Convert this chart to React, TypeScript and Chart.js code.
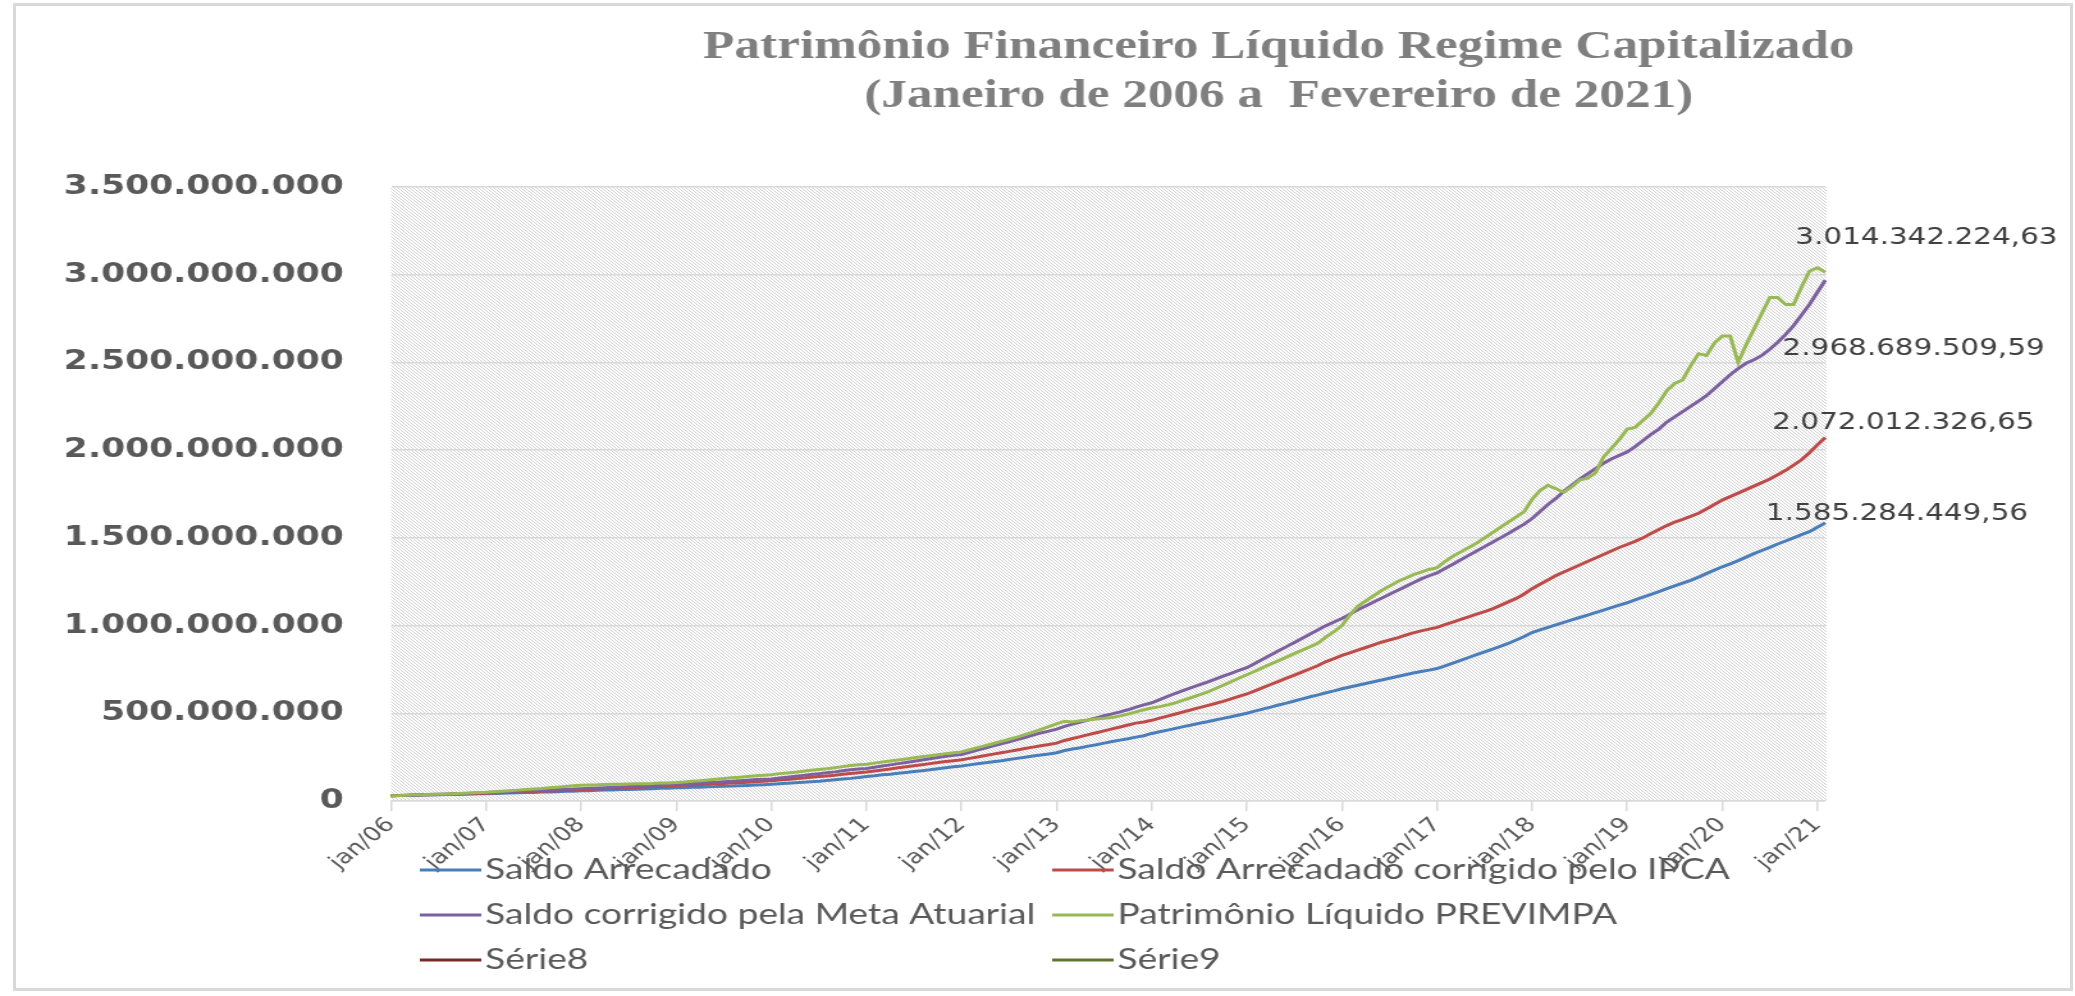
import React, { useEffect, useRef } from "react";
import { Chart, registerables } from "chart.js";
Chart.register(...registerables);

// Horizontal stretch of the original picture
const S = 1.28;
const W = 1621;
const H = 996;

const titleLines = [
  "Patrimônio Financeiro Líquido Regime Capitalizado",
  "(Janeiro de 2006 a  Fevereiro de 2021)",
];

const monthNames = ["jan", "fev", "mar", "abr", "mai", "jun", "jul", "ago", "set", "out", "nov", "dez"];
const categories: string[] = [];
for (let y = 2006; y <= 2021; y++) {
  for (let m = 0; m < 12; m++) {
    if (y === 2021 && m > 1) break;
    categories.push(`${monthNames[m]}/${String(y).slice(2)}`);
  }
}

const yTicks = [0, 500000000, 1000000000, 1500000000, 2000000000, 2500000000, 3000000000, 3500000000];

// values in R$ millions
const saldoArrecadado = [
  30, 31, 32, 33, 34, 35, 36, 37, 38, 39, 40, 41,
  42, 43, 44, 45, 47, 48, 49, 51, 52, 53, 55, 56,
  58, 59, 61, 62, 63, 65, 66, 67, 69, 70, 72, 73,
  75, 76, 78, 79, 81, 82, 84, 85, 87, 89, 91, 93,
  95, 98, 101, 104, 107, 110, 113, 117, 121, 125, 129, 134,
  140, 144, 149, 153, 158, 163, 168, 173, 178, 184, 190, 195,
  200, 206, 212, 218, 224, 230, 237, 243, 249, 256, 262, 268,
  275, 288, 296, 304, 313, 321, 330, 339, 347, 355, 364, 372,
  385, 395, 404, 414, 424, 433, 443, 452, 462, 471, 480, 490,
  500, 512, 524, 535, 547, 558, 570, 582, 594, 605, 617, 628,
  640, 650, 660, 670, 680, 690, 700, 710, 720, 730, 738, 746,
  755, 770, 786, 802, 818, 834, 850, 866, 882, 898, 918, 938,
  960, 975, 990, 1004, 1018, 1032, 1046, 1060, 1074, 1088, 1102, 1116,
  1130, 1146, 1162, 1178, 1194, 1210, 1226, 1242, 1258, 1276, 1296, 1316,
  1335, 1352, 1370, 1390, 1410, 1428, 1446, 1465, 1482, 1500, 1518, 1535,
  1560, 1585.28444956,
];

const saldoIPCA = [
  30, 31, 32, 34, 35, 36, 37, 38, 39, 41, 42, 43,
  45, 46, 48, 49, 51, 52, 54, 55, 57, 58, 60, 62,
  65, 66, 68, 70, 72, 74, 76, 78, 80, 82, 84, 86,
  88, 90, 92, 94, 96, 98, 100, 102, 104, 107, 110, 112,
  115, 119, 123, 127, 131, 135, 139, 143, 147, 152, 157, 161,
  165, 171, 177, 183, 189, 195, 201, 207, 213, 219, 225, 230,
  235, 243, 251, 259, 267, 275, 283, 291, 299, 307, 315, 322,
  330, 345, 356, 367, 378, 389, 400, 411, 422, 433, 444, 450,
  460, 472, 484, 496, 508, 520, 532, 544, 556, 568, 582, 596,
  610, 628, 646, 664, 682, 700, 718, 736, 754, 772, 795, 812,
  830, 845, 860, 875, 890, 905, 918, 930, 945, 958, 970, 980,
  990, 1005, 1020, 1035, 1050, 1065, 1080, 1095, 1115, 1135, 1155, 1180,
  1210, 1235, 1260, 1285, 1305, 1325, 1345, 1365, 1385, 1405, 1425, 1445,
  1462, 1480, 1500, 1525, 1548, 1570, 1590, 1605, 1622, 1640, 1665, 1690,
  1715, 1735, 1755, 1775, 1795, 1815, 1835, 1860, 1885, 1915, 1945, 1985,
  2030, 2072.01232665,
];

const saldoMeta = [
  30, 31, 33, 34, 35, 37, 38, 39, 41, 42, 44, 46,
  48, 50, 52, 53, 55, 57, 59, 61, 63, 65, 67, 68,
  70, 72, 74, 76, 78, 80, 82, 84, 86, 88, 90, 92,
  95, 97, 99, 102, 105, 107, 110, 113, 116, 119, 122, 124,
  125, 131, 136, 141, 146, 151, 156, 161, 166, 172, 178, 183,
  185, 192, 199, 206, 213, 220, 227, 234, 241, 248, 255, 260,
  265, 278, 290, 302, 314, 326, 338, 350, 362, 375, 388, 398,
  410, 425, 438, 450, 462, 474, 486, 497, 508, 520, 535, 548,
  560, 578, 596, 614, 630, 646, 662, 678, 695, 712, 728, 744,
  760, 784, 808, 832, 856, 880, 904, 928, 952, 976, 1000, 1020,
  1040, 1065, 1090, 1112, 1134, 1156, 1178, 1200, 1222, 1244, 1266, 1284,
  1300, 1325, 1350, 1375, 1400, 1425, 1450, 1475, 1500, 1525, 1552, 1578,
  1610, 1650, 1690, 1725, 1765, 1800, 1835, 1865, 1895, 1925, 1950, 1970,
  1990, 2020, 2055, 2090, 2120, 2160, 2190, 2220, 2250, 2280, 2310, 2350,
  2390, 2430, 2465, 2495, 2515, 2540, 2575, 2615, 2660, 2710, 2770, 2830,
  2900, 2968.68950959,
];

const patrimonioPL = [
  30, 31, 33, 35, 36, 38, 39, 40, 42, 44, 46, 48,
  50, 53, 56, 59, 62, 65, 68, 71, 75, 79, 83, 87,
  90, 91, 92, 94, 95, 96, 97, 98, 99, 100, 102, 103,
  105, 108, 112, 116, 120, 124, 128, 132, 136, 140, 144, 147,
  150, 156, 160, 164, 170, 175, 180, 184, 190, 196, 202, 206,
  210, 216, 222, 228, 234, 240, 246, 252, 258, 264, 270, 275,
  280, 292, 304, 316, 328, 340, 352, 364, 378, 392, 408, 424,
  440, 455, 450, 458, 462, 468, 472, 476, 485, 495, 508, 520,
  530, 538, 548, 560, 575, 590, 605, 620, 640, 660, 680, 700,
  720, 740, 760, 780, 800, 820, 840, 860, 880, 900, 935, 965,
  1000, 1060, 1110, 1140, 1170, 1200, 1225, 1250, 1270, 1290, 1305, 1320,
  1330, 1365, 1395, 1420, 1445, 1470, 1500, 1530, 1560, 1590, 1620, 1650,
  1720, 1770, 1800, 1780, 1760, 1790, 1830, 1840, 1870, 1960, 2010, 2060,
  2120, 2130, 2170, 2210, 2270, 2340, 2380, 2400, 2480, 2550, 2540, 2610,
  2650, 2650, 2500, 2600, 2690, 2780, 2870, 2870, 2830, 2830, 2930, 3020,
  3040, 3014.34222463,
];

const serie8: number[] = [];
const serie9: number[] = [];

const seriesNames = [
  "Saldo Arrecadado",
  "Saldo Arrecadado corrigido pelo IPCA",
  "Saldo corrigido pela Meta Atuarial",
  "Patrimônio Líquido PREVIMPA",
  "Série8",
  "Série9",
];
const seriesColors = ["#4A7EBB", "#BE4B48", "#7D60A0", "#98B954", "#772C2A", "#5F7530"];

function fmtInt(n: number): string {
  return Math.round(n).toString().replace(/\B(?=(\d{3})+(?!\d))/g, ".");
}
function fmtDec(n: number): string {
  const [i, d] = n.toFixed(2).split(".");
  return i.replace(/\B(?=(\d{3})+(?!\d))/g, ".") + "," + d;
}

// end-label offsets (unstretched px) per dataset index
const endLabelOffsets: Record<number, [number, number]> = {
  0: [56, -9],
  1: [61, -14],
  2: [69, 69],
  3: [79, -34],
};

const hatchPlugin = {
  id: "hatch",
  beforeDraw(chart: any) {
    const { ctx, chartArea } = chart;
    const pc = document.createElement("canvas");
    pc.width = 3;
    pc.height = 3;
    const p = pc.getContext("2d")!;
    p.fillStyle = "#ffffff";
    p.fillRect(0, 0, 3, 3);
    p.fillStyle = "#d3d3d3";
    for (let i = 0; i < 3; i++) p.fillRect(i, i, 1, 1);
    ctx.save();
    ctx.fillStyle = "#ffffff";
    ctx.fillRect(0, 0, chart.width, chart.height);
    ctx.fillStyle = ctx.createPattern(pc, "repeat");
    ctx.fillRect(chartArea.left, chartArea.top, chartArea.right - chartArea.left + 1, chartArea.bottom - chartArea.top);
    ctx.restore();
  },
};

const titlePlugin = {
  id: "customTitle",
  afterDraw(chart: any) {
    const ctx = chart.ctx;
    ctx.save();
    ctx.font = "bold 40px 'Liberation Serif'";
    ctx.fillStyle = "#7F7F7F";
    ctx.textAlign = "center";
    ctx.textBaseline = "alphabetic";
    ctx.fillText(titleLines[0], 999, 58);
    ctx.fillText(titleLines[1], 999, 107);
    ctx.restore();
  },
};

const endLabelPlugin = {
  id: "endLabels",
  afterDatasetsDraw(chart: any) {
    const ctx = chart.ctx;
    ctx.save();
    ctx.font = "23px 'DejaVu Sans'";
    ctx.fillStyle = "#404040";
    ctx.textAlign = "center";
    ctx.textBaseline = "middle";
    chart.data.datasets.forEach((ds: any, i: number) => {
      const off = endLabelOffsets[i];
      if (!off || !ds.data.length) return;
      const meta = chart.getDatasetMeta(i);
      const pt = meta.data[meta.data.length - 1];
      const v = ds.data[ds.data.length - 1];
      ctx.fillText(fmtDec(v), pt.x + off[0], pt.y + off[1]);
    });
    ctx.restore();
  },
};

const legendPlugin = {
  id: "gridLegend",
  afterDraw(chart: any) {
    const ctx = chart.ctx;
    const colX = [328, 822];
    const rowY = [870, 915, 960];
    ctx.save();
    ctx.font = "29px Lato";
    ctx.textAlign = "left";
    ctx.textBaseline = "middle";
    chart.data.datasets.forEach((ds: any, i: number) => {
      const x = colX[i % 2];
      const y = rowY[Math.floor(i / 2)];
      ctx.strokeStyle = ds.borderColor;
      ctx.lineWidth = 3;
      ctx.beginPath();
      ctx.moveTo(x, y);
      ctx.lineTo(x + 48, y);
      ctx.stroke();
      ctx.fillStyle = "#595959";
      ctx.fillText(ds.label, x + 51, y);
    });
    ctx.restore();
  },
};

export default function App() {
  const ref = useRef<HTMLCanvasElement>(null);
  useEffect(() => {
    const series = [saldoArrecadado, saldoIPCA, saldoMeta, patrimonioPL, serie8, serie9];
    const datasets = series.map((arr, i) => ({
      label: seriesNames[i],
      data: arr.map((v) => v * 1e6),
      borderColor: seriesColors[i],
      backgroundColor: seriesColors[i],
      borderWidth: 3,
      pointRadius: 0,
      tension: 0,
      fill: false,
      order: 6 - i,
    }));
    const chart = new Chart(ref.current as HTMLCanvasElement, {
      type: "line",
      data: { labels: categories, datasets },
      options: {
        responsive: false,
        animation: false,
        devicePixelRatio: 1,
        layout: { padding: { top: 187, left: 0, right: W - 1426, bottom: 45 } },
        plugins: {
          legend: { display: false },
          title: { display: false },
          tooltip: { enabled: false },
        },
        scales: {
          x: {
            type: "category",
            offset: false,
            afterFit: (s: any) => {
              s.height = 150;
            },
            border: { display: true, color: "#D9D9D9", width: 1.5 },
            grid: {
              display: true,
              drawOnChartArea: false,
              drawTicks: true,
              tickLength: 10,
              color: "#D9D9D9",
              lineWidth: 1.5,
            },
            ticks: {
              autoSkip: false,
              maxRotation: 45,
              minRotation: 45,
              padding: 2,
              color: "#595959",
              font: { family: "'DejaVu Sans'", size: 20 },
              callback: (_v: any, i: number) => (i % 12 === 0 ? categories[i] : null),
            },
          },
          y: {
            min: yTicks[0],
            max: yTicks[yTicks.length - 1],
            afterFit: (s: any) => {
              s.width = 305.5;
            },
            afterBuildTicks: (s: any) => {
              s.ticks = yTicks.map((v) => ({ value: v }));
            },
            border: { display: false },
            grid: { color: "#D9D9D9", lineWidth: 1.5, drawTicks: false },
            ticks: {
              padding: 37,
              color: "#595959",
              font: { family: "'DejaVu Sans'", size: 27, weight: "bold" },
              callback: (v: any) => fmtInt(Number(v)),
            },
          },
        },
      },
      plugins: [hatchPlugin, titlePlugin, endLabelPlugin, legendPlugin],
    } as any);
    return () => chart.destroy();
  }, []);

  return (
    <div style={{ position: "absolute", left: 0, top: 0, width: 2075, height: 996, overflow: "hidden", background: "#ffffff" }}>
      <div style={{ position: "absolute", left: 0, top: 0, width: W, height: H, transform: `scaleX(${S})`, transformOrigin: "0 0" }}>
        <canvas ref={ref} width={W} height={H} style={{ width: W, height: H, display: "block" }} />
      </div>
      <div
        style={{
          position: "absolute",
          left: 13,
          top: 3,
          width: 2060,
          height: 988,
          boxSizing: "border-box",
          border: "3px solid #D9D9D9",
          pointerEvents: "none",
        }}
      />
    </div>
  );
}
